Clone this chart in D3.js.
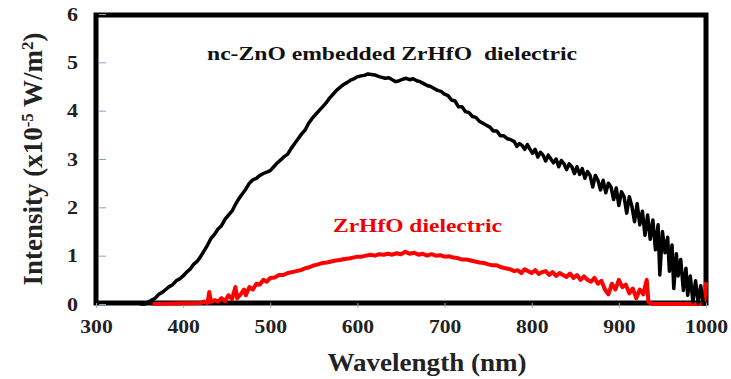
<!DOCTYPE html>
<html>
<head>
<meta charset="utf-8">
<script src="https://cdn.jsdelivr.net/npm/d3@7"></script>
<style>
  body { margin: 0; background: #fff; }
</style>
</head>
<body>
<div class="chart"></div>
<script>
var w = 731, h = 379,
	serif = 'Liberation Serif';

// tick labels
var xTicks = [300, 400, 500, 600, 700, 800, 900, 1000],
	yTicks = [0, 1, 2, 3, 4, 5, 6];

// nc-ZnO embedded ZrHfO (black)
var znoWl = [350, 356, 360, 364, 368, 372, 376, 380, 384, 388, 392, 396, 400, 404, 408, 412, 416, 420, 424, 428,
	432, 436, 440, 444, 448, 452, 456, 460, 464, 468, 472, 476, 480, 484, 488, 492, 496, 500, 504, 508,
	512, 516, 520, 524, 528, 532, 536, 540, 544, 548, 552, 556, 560, 564, 568, 572, 576, 580, 584, 588,
	592, 596, 600, 604, 608, 612, 616, 620, 624, 628, 632, 636, 640, 644, 648, 652, 656, 660, 664, 668,
	672, 676, 680, 684, 688, 692, 696, 700, 704, 708, 712, 716, 720, 724, 728, 732, 736, 740, 744, 748,
	752, 756, 760, 764, 768, 772, 776, 780, 783, 786, 789, 792, 795, 798, 801, 804, 807, 810, 813, 816,
	819, 822, 825, 828, 831, 834, 837, 840, 843, 846, 849, 852, 855, 858, 861, 864, 867, 870, 873, 876,
	879, 882, 885, 888, 891, 894, 897, 900, 903, 906, 909, 912, 915, 918, 921, 924, 927, 930, 933, 936,
	939, 942, 945, 947, 950, 953, 956, 958, 961, 963, 966, 968, 971, 974, 977, 979, 982, 985, 988, 991,
	994, 997, 1000];
var znoVal = [0, 0, 0.04, 0.08, 0.12, 0.2, 0.24, 0.3, 0.36, 0.4, 0.48, 0.52, 0.58, 0.66, 0.72, 0.82, 0.88, 0.98, 1.1, 1.22,
	1.36, 1.44, 1.55, 1.62, 1.75, 1.84, 1.92, 2.06, 2.18, 2.28, 2.38, 2.5, 2.57, 2.6, 2.66, 2.7, 2.73, 2.76, 2.84, 2.92,
	2.98, 3.05, 3.1, 3.22, 3.32, 3.42, 3.52, 3.6, 3.74, 3.84, 3.92, 4.0, 4.08, 4.16, 4.26, 4.34, 4.42, 4.48, 4.54, 4.58,
	4.63, 4.66, 4.7, 4.72, 4.73, 4.76, 4.75, 4.74, 4.71, 4.69, 4.67, 4.68, 4.64, 4.6, 4.62, 4.65, 4.67, 4.64, 4.66, 4.62,
	4.6, 4.56, 4.52, 4.5, 4.46, 4.42, 4.4, 4.34, 4.31, 4.22, 4.2, 4.08, 4.08, 3.98, 3.96, 3.88, 3.86, 3.78, 3.74, 3.7,
	3.66, 3.58, 3.58, 3.48, 3.48, 3.42, 3.4, 3.36, 3.26, 3.32, 3.28, 3.2, 3.3, 3.2, 3.12, 3.2, 3.04, 3.14, 3.08, 2.96,
	3.08, 3.0, 2.92, 3.0, 2.84, 2.97, 2.9, 2.78, 2.9, 2.84, 2.7, 2.84, 2.68, 2.8, 2.6, 2.74, 2.66, 2.42, 2.66, 2.56,
	2.36, 2.56, 2.3, 2.5, 2.42, 2.16, 2.4, 2.04, 2.32, 2.22, 1.88, 2.22, 2.02, 1.7, 2.08, 1.64, 1.92, 1.42, 1.84, 1.34,
	1.74, 1.12, 1.64, 0.6, 1.5, 1.06, 1.38, 0.68, 1.22, 0.32, 1.04, 0.58, 0.92, 0.28, 0.74, 0.18, 0.58, 0.04, 0.48, 0.02,
	0.38, 0, 0];

// ZrHfO dielectric (red)
var hfoWl = [365, 420, 424, 428, 430, 432, 436, 440, 444, 448, 452, 456, 460, 462, 466, 470, 472, 476, 480, 484,
	488, 492, 496, 500, 505, 510, 515, 520, 525, 530, 535, 540, 545, 550, 555, 560, 565, 570, 575, 580,
	585, 590, 595, 600, 605, 610, 615, 620, 625, 630, 635, 640, 645, 650, 655, 660, 665, 670, 675, 680,
	685, 690, 695, 700, 705, 710, 715, 720, 725, 730, 735, 740, 745, 750, 755, 760, 765, 770, 775, 780,
	784, 788, 792, 796, 800, 804, 808, 812, 816, 820, 824, 828, 832, 836, 840, 844, 848, 852, 856, 860,
	864, 868, 872, 876, 880, 884, 888, 892, 896, 900, 904, 908, 912, 916, 920, 924, 928, 932, 934, 938,
	985, 998, 1000];
var hfoVal = [0, 0.02, 0.05, 0.02, 0.25, 0.04, 0.08, 0.05, 0.12, 0.06, 0.18, 0.1, 0.35, 0.12, 0.2, 0.3, 0.18, 0.35, 0.3, 0.42,
	0.4, 0.5, 0.46, 0.54, 0.55, 0.6, 0.6, 0.64, 0.66, 0.68, 0.7, 0.74, 0.76, 0.8, 0.82, 0.85, 0.86, 0.88, 0.9, 0.91,
	0.93, 0.94, 0.96, 0.98, 0.98, 1.0, 1.02, 1.0, 1.03, 1.02, 1.04, 1.02, 1.05, 1.03, 1.08, 1.04, 1.06, 1.02, 1.04, 1.0,
	1.03, 1.0, 1.01, 0.98, 0.99, 0.96, 0.95, 0.92, 0.92, 0.9, 0.88, 0.86, 0.85, 0.82, 0.8, 0.8, 0.76, 0.74, 0.72, 0.68,
	0.7, 0.64, 0.72, 0.68, 0.64, 0.7, 0.62, 0.66, 0.68, 0.6, 0.66, 0.58, 0.64, 0.6, 0.56, 0.63, 0.54, 0.6, 0.5, 0.57,
	0.5, 0.46, 0.54, 0.42, 0.48, 0.3, 0.2, 0.42, 0.3, 0.5, 0.35, 0.4, 0.22, 0.32, 0.12, 0.3, 0.2, 0.5, 0.04, 0,
	0, 0, 0.45];

var x = d3.scaleLinear().domain([300, 1000]).range([96, 706]),
	y = d3.scaleLinear().domain([0, 6]).range([304, 14]);

var svg = d3.select('.chart').append('svg')
			.attr('width', w)
			.attr('height', h)

// frame
svg.append('rect')
	.attr('x', 96).attr('y', 15)
	.attr('width', 610).attr('height', 288)
	.attr('fill', 'none')
	.attr('stroke', '#000')
	.attr('stroke-width', 5)

// axes
var yAxis = svg.append('g')
	.attr('transform', 'translate(96,0)')
	.call(d3.axisLeft(y).tickValues(yTicks).tickFormat(d3.format('d')).tickSize(-10).tickPadding(18))
yAxis.attr('font-family', serif).attr('font-size', 19).attr('font-weight', 'bold')
yAxis.select('.domain').remove()
yAxis.selectAll('line').attr('stroke', '#7aa7d6').attr('x1', 3)
yAxis.selectAll('text')
	.attr('fill', '#222')
	.attr('textLength', 11)
	.attr('lengthAdjust', 'spacingAndGlyphs')

var xAxis = svg.append('g')
	.attr('transform', 'translate(0,303)')
	.call(d3.axisBottom(x).tickValues(xTicks).tickFormat(d3.format('d')).tickSize(5).tickPadding(12))
xAxis.attr('font-family', serif).attr('font-size', 19).attr('font-weight', 'bold')
xAxis.select('.domain').remove()
xAxis.selectAll('line').attr('stroke', '#aaa')
xAxis.selectAll('text')
	.attr('fill', '#222')
	.attr('textLength', function(d){ return String(d).length * 10.8 })
	.attr('lengthAdjust', 'spacingAndGlyphs')

// curves
var line = d3.line()
	.x(function(d){ return x(d[0]) })
	.y(function(d){ return y(d[1]) })

svg.append('path')
	.attr('d', line(hfoWl.map(function(d, i){ return [d, hfoVal[i]] })))
	.attr('fill', 'none')
	.attr('stroke', '#f00')
	.attr('stroke-width', 4)
	.attr('stroke-linejoin', 'round')

svg.append('path')
	.attr('d', line(znoWl.map(function(d, i){ return [d, znoVal[i]] })))
	.attr('fill', 'none')
	.attr('stroke', '#000')
	.attr('stroke-width', 3.5)
	.attr('stroke-linejoin', 'round')

// titles
function label(sel, size) {
	return sel.attr('font-family', serif).attr('font-weight', 'bold').attr('font-size', size)
}

label(svg.append('text'), 26)
	.attr('x', 427).attr('y', 371)
	.attr('text-anchor', 'middle')
	.attr('textLength', 199)
	.attr('lengthAdjust', 'spacingAndGlyphs')
	.attr('fill', '#222')
	.text('Wavelength (nm)')

var yt = label(svg.append('text'), 27)
	.attr('transform', 'translate(42,159) rotate(-90)')
	.attr('text-anchor', 'middle')
	.attr('fill', '#222')
yt.append('tspan').text('Intensity (x10')
yt.append('tspan').attr('baseline-shift', 'super').attr('font-size', 17).text('-5')
yt.append('tspan').text(' W/m')
yt.append('tspan').attr('baseline-shift', 'super').attr('font-size', 17).text('2')
yt.append('tspan').text(')')

label(svg.append('text'), 18)
	.attr('x', 207).attr('y', 60)
	.attr('textLength', 370)
	.attr('lengthAdjust', 'spacingAndGlyphs')
	.attr('xml:space', 'preserve')
	.attr('fill', '#111')
	.text('nc-ZnO embedded ZrHfO  dielectric')

label(svg.append('text'), 19)
	.attr('x', 333).attr('y', 232)
	.attr('textLength', 169)
	.attr('lengthAdjust', 'spacingAndGlyphs')
	.attr('fill', '#e00')
	.text('ZrHfO dielectric')
</script>
</body>
</html>
